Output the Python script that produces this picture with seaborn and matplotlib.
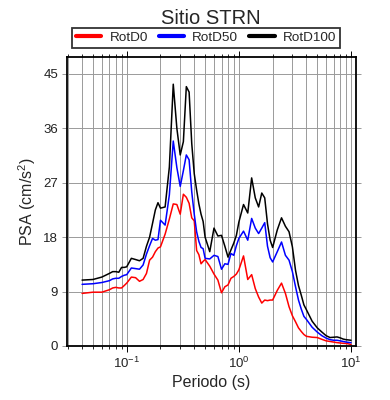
import matplotlib
matplotlib.use("Agg")
import matplotlib.pyplot as plt
import matplotlib.ticker as mticker
import seaborn as sns
import pandas as pd

# periods (s) and spectral ordinates (cm/s^2)
periods = [0.04, 0.05, 0.06, 0.07, 0.075, 0.08, 0.085, 0.09, 0.095, 0.1,
           0.11, 0.12, 0.13, 0.14, 0.15, 0.16, 0.17, 0.18, 0.19, 0.2,
           0.22, 0.24, 0.26, 0.28, 0.3, 0.32, 0.34, 0.36, 0.38, 0.4,
           0.42, 0.44, 0.46, 0.48, 0.5, 0.55, 0.6, 0.65, 0.7, 0.75,
           0.8, 0.85, 0.9, 0.95, 1.0, 1.1, 1.2, 1.3, 1.4, 1.5,
           1.6, 1.7, 1.8, 1.9, 2.0, 2.2, 2.4, 2.6, 2.8, 3.0,
           3.2, 3.4, 3.6, 3.8, 4.0, 4.5, 5.0, 5.5, 6.0, 6.5,
           7.0, 7.5, 8.0, 8.5, 9.0, 9.5, 10.0]

rotd0 = [8.7, 8.9, 8.9, 9.3, 9.6, 9.7, 9.6, 9.6, 10.0, 10.4,
         11.4, 11.3, 10.7, 11.0, 12.0, 14.2, 14.7, 15.6, 16.2, 16.4,
         18.5, 21.0, 23.5, 23.4, 21.8, 25.1, 24.6, 23.6, 21.2, 20.7,
         15.8, 15.1, 13.6, 14.0, 14.3, 13.2, 11.9, 10.9, 8.8, 9.8,
         10.1, 11.2, 11.5, 11.9, 12.6, 14.9, 11.0, 11.8, 9.5, 8.1,
         7.1, 7.6, 7.5, 7.6, 7.6, 9.2, 10.4, 8.7, 6.5, 5.0,
         4.0, 3.0, 2.4, 1.9, 1.6, 1.45, 1.4, 1.1, 0.85, 0.75,
         0.65, 0.56, 0.5, 0.45, 0.42, 0.35, 0.25]

rotd50 = [10.2, 10.3, 10.5, 10.8, 11.1, 11.2, 11.2, 11.5, 11.7, 11.8,
          12.9, 12.8, 12.7, 13.4, 15.2, 16.6, 17.8, 17.5, 17.6, 20.8,
          20.0, 25.0, 33.9, 29.5, 26.4, 29.0, 31.6, 30.8, 25.5, 21.8,
          18.9, 17.3, 16.3, 16.1, 14.5, 14.4, 15.0, 14.8, 12.7, 13.6,
          13.5, 15.3, 15.0, 16.6, 17.8, 19.0, 17.5, 21.1, 19.5, 18.6,
          19.5, 20.4, 16.5, 14.6, 13.9, 15.6, 17.2, 15.0, 14.2, 12.3,
          9.8, 7.6, 6.1, 4.9, 4.4, 3.1, 2.3, 1.7, 1.3, 1.05,
          0.95, 0.95, 0.85, 0.75, 0.66, 0.6, 0.55]

rotd100 = [10.9, 11.0, 11.4, 12.0, 12.3, 12.3, 12.2, 13.0, 13.0, 13.1,
           14.5, 14.3, 14.1, 14.5, 16.5, 18.0, 20.3, 22.5, 23.7, 22.8,
           23.0, 29.6, 43.3, 36.0, 31.6, 33.8, 42.9, 42.0, 33.5, 28.5,
           25.8, 23.5, 21.8, 20.6, 18.0, 15.6, 19.5, 18.2, 18.3, 16.5,
           14.7, 15.9, 17.0, 18.3, 20.5, 23.4, 22.0, 27.8, 24.5, 23.0,
           25.3, 24.5, 20.2, 17.5, 16.3, 19.2, 21.2, 19.8, 18.9, 16.4,
           12.5, 10.0, 8.4, 6.8, 6.0, 4.1, 3.0, 2.3, 1.7, 1.4,
           1.45, 1.5, 1.35, 1.15, 1.05, 1.0, 0.95]

series_names = ["RotD0", "RotD50", "RotD100"]
series_colors = ["#ff0000", "#0000ff", "#000000"]
y_ticks = [0, 9, 18, 27, 36, 45]

df = pd.DataFrame({"Periodo": periods, "RotD0": rotd0,
                   "RotD50": rotd50, "RotD100": rotd100})
long_df = df.melt(id_vars="Periodo", var_name="comp", value_name="PSA")

sns.set_style("ticks")
plt.rcParams["font.family"] = ["Liberation Sans", "DejaVu Sans"]
plt.rcParams["mathtext.fontset"] = "custom"
plt.rcParams["mathtext.rm"] = "Liberation Sans"
plt.rcParams["mathtext.it"] = "Liberation Sans:italic"
plt.rcParams["axes.unicode_minus"] = True

fig = plt.figure(figsize=(3.9, 4.0), dpi=100)
ax = fig.add_axes([0.172, 0.135, 0.74, 0.7225])

sns.lineplot(data=long_df, x="Periodo", y="PSA", hue="comp",
             hue_order=series_names, palette=series_colors,
             linewidth=1.1, ax=ax, legend=False, zorder=3)

ax.set_xscale("log")
ax.set_xlim(0.0294, 11.0)
ax.set_ylim(0, 47.8)
ax.set_yticks(y_ticks)
ax.xaxis.set_major_locator(mticker.LogLocator(base=10))
ax.xaxis.set_minor_locator(mticker.LogLocator(base=10, subs=range(2, 10)))
ax.xaxis.set_minor_formatter(mticker.NullFormatter())

ax.grid(True, which="both", axis="x", color="#9a9a9a", linewidth=0.7)
ax.grid(True, which="major", axis="y", color="#9a9a9a", linewidth=0.7)

for side in ax.spines.values():
    side.set_linewidth(1.3)
    side.set_color("black")
    side.set_zorder(5)

ax.tick_params(which="major", direction="out", length=4, width=0.7,
               top=True, right=True, labelsize=9.5, colors="black",
               labelcolor="#222222", pad=3)
ax.tick_params(which="minor", direction="out", length=2.5, width=0.7,
               top=True, right=False)
ax.tick_params(axis="y", which="major", length=3.5, color="#9a9a9a")

ax.set_xlabel("Periodo (s)", fontsize=11.5, labelpad=3)
ax.set_ylabel("PSA (cm/s$^2$)", fontsize=11.5, labelpad=4)
fig.suptitle("Sitio STRN", x=0.54, y=0.978, fontsize=14.5)

handles = [plt.Line2D([], [], color=c, linewidth=3) for c in series_colors]
leg = fig.legend(handles, series_names, ncol=3, loc="center",
                 bbox_to_anchor=(0.528, 0.905), fontsize=9.7,
                 frameon=True, fancybox=False, edgecolor="black",
                 handlelength=1.9, handletextpad=0.6, columnspacing=0.8,
                 borderpad=0.3, borderaxespad=0)
leg.get_frame().set_linewidth(1.3)

fig.savefig("out.png", dpi=100)
